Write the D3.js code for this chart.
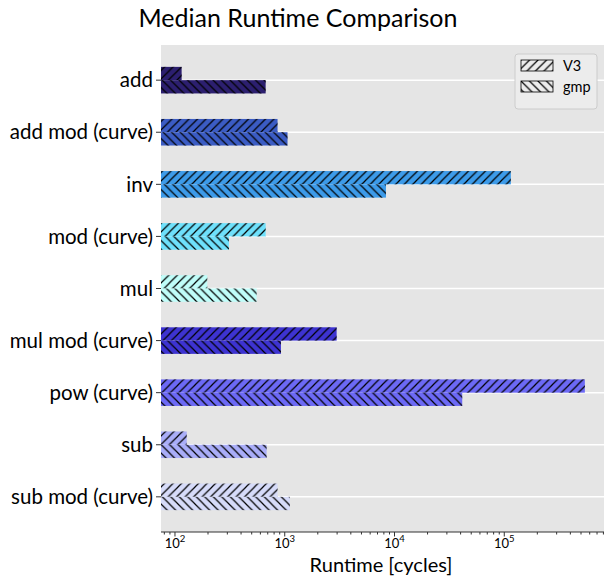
<!DOCTYPE html>
<html>
<head>
<meta charset="utf-8">
<script src="https://cdn.jsdelivr.net/npm/d3@7"></script>
<style>
  body { margin: 0; background: #fff; }
  svg text { font-family: Lato, "Noto Sans", sans-serif; fill: #000; }
</style>
</head>
<body>
<div id="chart"></div>
<script>
const categories = ["add", "add mod (curve)", "inv", "mod (curve)", "mul",
    "mul mod (curve)", "pow (curve)", "sub", "sub mod (curve)"];
const v3Values = [115, 860, 114800, 670, 197, 2970, 542000, 128, 860];
const gmpValues = [670, 1060, 8360, 310, 555, 923, 41400, 684, 1114];
const barColors = ["#2c1f6f", "#3b5cc4", "#3d9be9", "#6ee0fb", "#c0fdf9",
    "#3d33d1", "#6c69f5", "#a9adf8", "#d6dbf9"];
const seriesNames = ["V3", "gmp"];
const tickValues = [1e2, 1e3, 1e4, 1e5];
const tickExponents = ["2", "3", "4", "5"];

const width = 604, height = 580;
const margin = { top: 45, right: 0, bottom: 48, left: 161 };
const plotW = width - margin.left - margin.right;
const plotH = height - margin.top - margin.bottom;

const svg = d3.select("#chart").append("svg")
    .attr("width", width)
    .attr("height", height);

// hatch patterns
const defs = svg.append("defs");
const hp = 8.5;
function hatch(id, forward) {
    const p = defs.append("pattern")
        .attr("id", id)
        .attr("patternUnits", "userSpaceOnUse")
        .attr("width", hp).attr("height", hp);
    const d = forward
        ? `M0,${hp} L${hp},0 M${-hp / 2},${hp / 2} L${hp / 2},${-hp / 2} M${hp / 2},${hp * 1.5} L${hp * 1.5},${hp / 2}`
        : `M0,0 L${hp},${hp} M${-hp / 2},${hp / 2} L${hp / 2},${hp * 1.5} M${hp / 2},${-hp / 2} L${hp * 1.5},${hp / 2}`;
    p.append("path").attr("d", d)
        .attr("stroke", "#000").attr("stroke-width", 1.2).attr("fill", "none");
}
hatch("hatch-v3", true);
hatch("hatch-gmp", false);
const hatchIds = ["hatch-v3", "hatch-gmp"];

const g = svg.append("g").attr("transform", `translate(${margin.left},${margin.top})`);

const x = d3.scaleLog().domain([74.6, 8.1e5]).range([0, plotW]);
const y = d3.scalePoint().domain(categories).range([0, plotH]).padding(0.675);
const barH = y.step() * 0.255;

// background
g.append("rect").attr("width", plotW).attr("height", plotH).attr("fill", "#e5e5e5");

// grid
g.selectAll(".grid").data(categories).enter().append("line")
    .attr("x1", 0).attr("x2", plotW)
    .attr("y1", d => y(d)).attr("y2", d => y(d))
    .attr("stroke", "#fff").attr("stroke-width", 1.5);

// bars
const series = [v3Values, gmpValues];
series.forEach((vals, s) => {
    const rows = categories.map((c, i) => ({ c, v: vals[i], color: barColors[i] }));
    const yOff = s === 0 ? -barH : 0;
    g.selectAll(`.bar-${s}`).data(rows).enter().append("rect")
        .attr("x", 0)
        .attr("y", d => y(d.c) + yOff)
        .attr("width", d => x(d.v))
        .attr("height", barH)
        .attr("fill", d => d.color);
    g.selectAll(`.hatch-${s}`).data(rows).enter().append("rect")
        .attr("x", 0)
        .attr("y", d => y(d.c) + yOff)
        .attr("width", d => x(d.v))
        .attr("height", barH)
        .attr("fill", `url(#${hatchIds[s]})`);
});

// y axis
const yAxis = g.append("g");
categories.forEach(c => {
    yAxis.append("line").attr("x1", -5).attr("x2", 0)
        .attr("y1", y(c)).attr("y2", y(c))
        .attr("stroke", "#333").attr("stroke-width", 1);
    yAxis.append("text")
        .attr("x", -8).attr("y", y(c))
        .attr("dy", "0.35em")
        .attr("text-anchor", "end")
        .style("font-size", "20.5px")
        .text(c);
});

// x axis
const xAxis = g.append("g").attr("transform", `translate(0,${plotH})`);
xAxis.append("line").attr("x1", 0).attr("x2", plotW)
    .attr("stroke", "#333").attr("stroke-width", 1.2);
const [d0, d1] = x.domain();
const minor = [];
for (let e = 1; e <= 6; e++) {
    for (let m = 2; m <= 9; m++) {
        const v = m * Math.pow(10, e);
        if (v >= d0 && v <= d1) minor.push(v);
    }
}
xAxis.selectAll(".minor").data(minor).enter().append("line")
    .attr("x1", d => x(d)).attr("x2", d => x(d))
    .attr("y1", 0).attr("y2", 2.5)
    .attr("stroke", "#333").attr("stroke-width", 1);
tickValues.forEach((v, i) => {
    xAxis.append("line").attr("x1", x(v)).attr("x2", x(v))
        .attr("y1", 0).attr("y2", 4.5)
        .attr("stroke", "#333").attr("stroke-width", 1);
    const t = xAxis.append("text")
        .attr("x", x(v)).attr("y", 16)
        .attr("text-anchor", "middle")
        .style("font-size", "13px");
    t.append("tspan").text("10");
    t.append("tspan").attr("dy", -6).style("font-size", "9.5px").text(tickExponents[i]);
});
svg.append("text")
    .attr("x", 381).attr("y", 572)
    .attr("text-anchor", "middle")
    .style("font-size", "20px")
    .text("Runtime [cycles]");

// title
svg.append("text")
    .attr("x", 298).attr("y", 27)
    .attr("text-anchor", "middle")
    .style("font-size", "25px")
    .text("Median Runtime Comparison");

// legend
const legend = svg.append("g").attr("transform", "translate(515,54)");
legend.append("rect")
    .attr("width", 82).attr("height", 55)
    .attr("rx", 3)
    .attr("fill", "#ececec").attr("stroke", "#cccccc");
seriesNames.forEach((name, i) => {
    const row = legend.append("g").attr("transform", `translate(6,${6 + i * 21})`);
    row.append("rect").attr("width", 32).attr("height", 11)
        .attr("fill", `url(#${hatchIds[i]})`)
        .attr("stroke", "#000").attr("stroke-width", 0.8);
    row.append("text").attr("x", 42).attr("y", 6)
        .attr("dy", "0.35em")
        .style("font-size", "14.5px")
        .text(name);
});
</script>
</body>
</html>
